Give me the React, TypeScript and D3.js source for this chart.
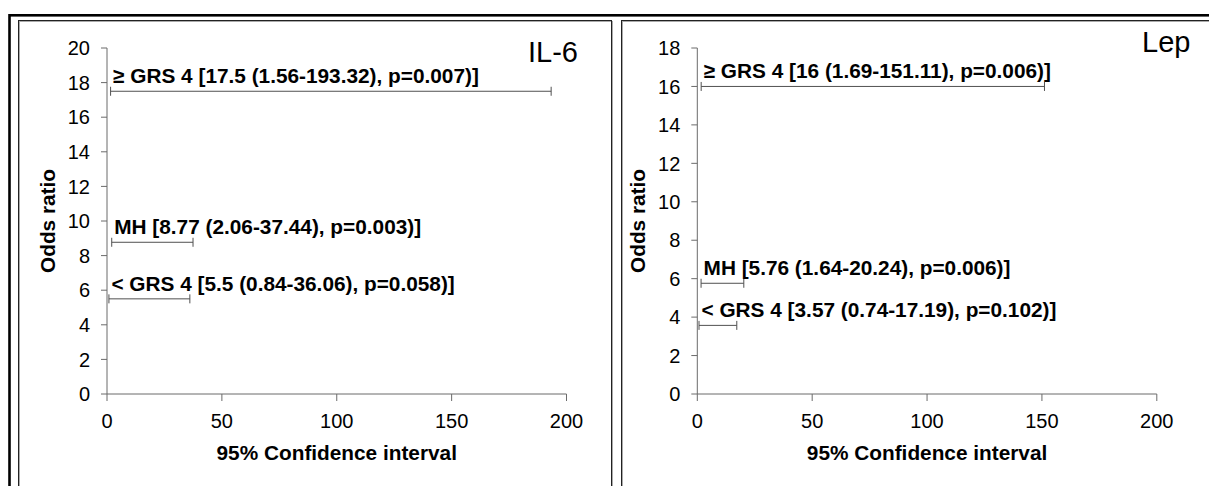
import React from "react";
import * as d3 from "d3";

const width = 1209;
const height = 486;

// groups shared by both panels
const groups = ["≥ GRS 4", "MH", "< GRS 4"];

// IL-6 panel
const il6Or = [17.5, 8.77, 5.5];
const il6Low = [1.56, 2.06, 0.84];
const il6High = [193.32, 37.44, 36.06];
const il6P = ["0.007", "0.003", "0.058"];

// Leptin panel
const lepOr = [16, 5.76, 3.57];
const lepLow = [1.69, 1.64, 0.74];
const lepHigh = [151.11, 20.24, 17.19];
const lepP = ["0.006", "0.006", "0.102"];

const xTicks = [0, 50, 100, 150, 200];
const il6YTicks = d3.range(0, 21, 2);
const lepYTicks = d3.range(0, 19, 2);

const font = "Arial, 'Liberation Sans', sans-serif";
const axisColor = "#6b6b6b";
const barColor = "#505050";
const tickSize = 20;
const boldSize = 20.8;

type PanelProps = {
  title: string;
  titleX: number;
  titleY: number;
  left: number;
  yMax: number;
  yTicks: number[];
  or: number[];
  low: number[];
  high: number[];
  p: string[];
};

function Panel(props: PanelProps) {
  const { title, titleX, titleY, left, yMax, yTicks, or, low, high, p } = props;
  const top = 48;
  const bottom = 394;
  const plotW = 459.5;

  const x = d3.scaleLinear().domain([0, 200]).range([left, left + plotW]);
  const y = d3.scaleLinear().domain([0, yMax]).range([bottom, top]);

  const rows = groups.map((g, i) => ({
    label: `${g} [${or[i]} (${low[i]}-${high[i]}), p=${p[i]})]`,
    or: or[i],
    low: low[i],
    high: high[i],
  }));

  return (
    <g>
      {/* axes */}
      <line x1={x(0)} x2={x(0)} y1={y(yMax)} y2={y(0)} stroke={axisColor} />
      <line x1={x(0)} x2={x(200)} y1={y(0)} y2={y(0)} stroke={axisColor} />
      {yTicks.map(t => (
        <g key={"y" + t}>
          <line x1={x(0) - 6} x2={x(0)} y1={y(t)} y2={y(t)} stroke={axisColor} />
          <text
            x={x(0) - 17}
            y={y(t)}
            dy="0.36em"
            textAnchor="end"
            fontSize={tickSize}
            fontFamily={font}
          >
            {t}
          </text>
        </g>
      ))}
      {xTicks.map(t => (
        <g key={"x" + t}>
          <line x1={x(t)} x2={x(t)} y1={y(0)} y2={y(0) + 7} stroke={axisColor} />
          <text
            x={x(t)}
            y={y(0) + 34}
            textAnchor="middle"
            fontSize={tickSize}
            fontFamily={font}
          >
            {t}
          </text>
        </g>
      ))}

      {/* error bars */}
      {rows.map(r => (
        <g key={r.label}>
          <line x1={x(r.low)} x2={x(r.high)} y1={y(r.or)} y2={y(r.or)} stroke={barColor} />
          <line x1={x(r.low)} x2={x(r.low)} y1={y(r.or) - 4.5} y2={y(r.or) + 4.5} stroke={barColor} />
          <line x1={x(r.high)} x2={x(r.high)} y1={y(r.or) - 4.5} y2={y(r.or) + 4.5} stroke={barColor} />
          <text
            x={x(r.low) + 2.5}
            y={y(r.or) - 8}
            fontSize={boldSize}
            fontWeight="bold"
            fontFamily={font}
          >
            {r.label}
          </text>
        </g>
      ))}

      {/* axis titles */}
      <text
        x={x(100)}
        y={460}
        textAnchor="middle"
        fontSize={boldSize}
        fontWeight="bold"
        fontFamily={font}
      >
        95% Confidence interval
      </text>
      <text
        transform={`translate(${x(0) - 52},${(top + bottom) / 2}) rotate(-90)`}
        textAnchor="middle"
        fontSize={boldSize}
        fontWeight="bold"
        fontFamily={font}
      >
        Odds ratio
      </text>

      <text x={titleX} y={titleY} fontSize={29} fontFamily={font}>
        {title}
      </text>
    </g>
  );
}

export default function App() {
  return (
    <svg
      width={width}
      height={height}
      style={{ position: "absolute", left: 0, top: 0, background: "#fff" }}
    >
      {/* outer frame */}
      <rect x={9.5} y={15.3} width={width + 20} height={height + 20} fill="none" stroke="#000" strokeWidth={2.6} />
      {/* panel frames */}
      <rect x={19.5} y={21.5} width={593} height={height} fill="none" stroke="#aaa" />
      <rect x={18.5} y={20.5} width={593} height={height} fill="none" stroke="#222" />
      <rect x={622.5} y={21.5} width={width} height={height} fill="none" stroke="#aaa" />
      <rect x={621.5} y={20.5} width={width} height={height} fill="none" stroke="#222" />

      <Panel
        title="IL-6"
        titleX={528}
        titleY={61.5}
        left={107}
        yMax={20}
        yTicks={il6YTicks}
        or={il6Or}
        low={il6Low}
        high={il6High}
        p={il6P}
      />
      <Panel
        title="Lep"
        titleX={1142}
        titleY={52}
        left={697.3}
        yMax={18}
        yTicks={lepYTicks}
        or={lepOr}
        low={lepLow}
        high={lepHigh}
        p={lepP}
      />
    </svg>
  );
}
